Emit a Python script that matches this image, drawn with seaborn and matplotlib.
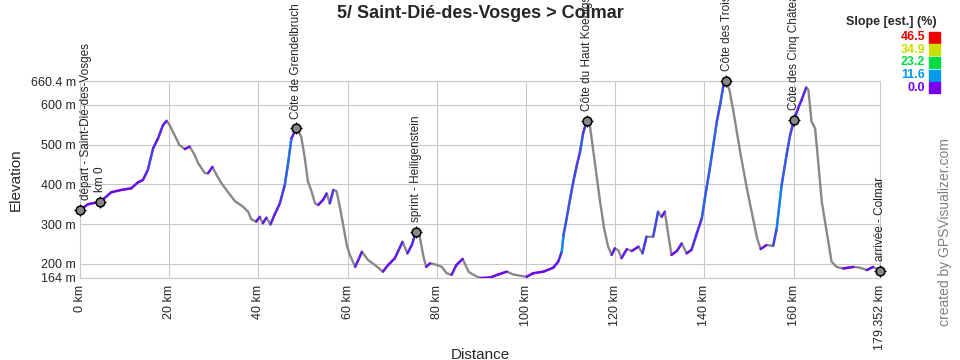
import numpy as np
import seaborn as sns
import matplotlib
matplotlib.use('Agg')
import matplotlib.pyplot as plt
import pandas as pd
from matplotlib.collections import LineCollection
from matplotlib.colors import LinearSegmentedColormap, Normalize
from matplotlib.patches import Rectangle

# profile (km, m)
dist_km = [0.0, 1.8, 4.55, 7.0, 9.3, 11.5, 13.0, 14.1, 15.2, 16.4, 17.5, 18.6, 19.4, 20.1,
           21.2, 22.3, 23.5, 24.6, 25.7, 26.5, 28.0, 28.7, 29.7, 30.6, 31.7, 32.8, 34.7,
           36.5, 37.7, 38.4, 39.5, 40.3, 41.0, 41.8, 42.7, 43.6, 44.8, 45.9, 46.6, 47.4,
           48.5, 49.6, 50.4, 51.1, 51.8, 52.7, 53.4, 54.5, 55.3, 56.0, 56.8, 57.5, 58.1,
           59.0, 59.8, 60.5, 61.7, 63.2, 64.6, 66.1, 67.9, 69.1, 70.6, 72.3, 73.4, 74.4,
           75.3, 76.1, 77.0, 77.6, 78.5, 80.0, 81.1, 82.2, 83.3, 84.4, 85.8, 87.1, 88.2,
           89.7, 91.9, 93.8, 95.7, 97.1, 98.6, 100.1, 101.6, 103.9, 106.1, 107.2, 108.0,
           108.4, 109.1, 109.9, 110.6, 111.4, 112.1, 112.8, 113.6, 114.2, 114.7, 115.8,
           116.6, 117.5, 118.4, 119.2, 119.9, 120.7, 121.4, 122.6, 123.7, 125.2, 126.1,
           127.0, 128.5, 129.6, 130.4, 131.1, 131.9, 132.6, 133.8, 134.9, 136.0, 137.1,
           138.3, 139.4, 140.3, 141.2, 142.0, 142.8, 143.5, 144.2, 144.8, 145.6, 146.5,
           148.0, 149.5, 150.9, 151.8, 152.6, 153.9, 155.4, 156.2, 157.3, 158.4, 159.2,
           160.1, 161.0, 161.8, 162.8, 163.3, 164.0, 164.8, 165.5, 166.3, 167.4, 168.5,
           169.6, 171.1, 173.4, 174.9, 176.4, 177.8, 179.352]
elev_m = [335, 350, 356, 380, 386, 390, 405, 411, 436, 491, 516, 549, 560, 549,
          524, 499, 489, 495, 474, 453, 428, 428, 444, 424, 403, 386, 358,
          344, 331, 312, 306, 318, 302, 316, 299, 323, 352, 398, 449, 516,
          541, 520, 466, 407, 386, 352, 348, 361, 377, 352, 386, 383, 352,
          298, 247, 222, 192, 230, 209, 197, 180, 197, 214, 255, 226, 247,
          281, 272, 218, 192, 201, 197, 192, 176, 172, 197, 212, 180, 172,
          164, 165, 173, 180, 173, 170, 167, 176, 180, 190, 205, 230,
          272, 314, 365, 407, 449, 482, 529, 560, 558, 516, 424,
          356, 289, 243, 222, 239, 234, 214, 237, 232, 243, 226,
          268, 268, 331, 318, 331, 272, 222, 232, 251, 226, 235,
          277, 314, 380, 440, 500, 560, 600, 646, 660.4, 638, 583,
          482, 390, 314, 264, 237, 247, 245, 289, 398, 474, 524,
          562, 592, 613, 644, 638, 558, 541, 457, 356, 281, 205,
          192, 188, 192, 190, 184, 192, 182]

marker_km = [0.0, 4.55, 48.5, 75.3, 113.6, 144.8, 160.1, 179.352]
marker_elev = [335, 356, 541, 281, 560, 660.4, 562, 182]
marker_labels = ['départ - Saint-Dié-des-Vosges', 'km 0', 'Côte de Grendelbruch',
                 'sprint - Heiligenstein', 'Côte du Haut Koenigsbourg',
                 'Côte des Trois Épis', 'Côte des Cinq Châteaux', 'arrivée - Colmar']

y_ticks = [164, 200, 300, 400, 500, 600, 660.4]
y_tick_labels = ['164 m', '200 m', '300 m', '400 m', '500 m', '600 m', '660.4 m']
x_ticks = [0, 20, 40, 60, 80, 100, 120, 140, 160, 179.352]
x_tick_labels = ['0 km', '20 km', '40 km', '60 km', '80 km', '100 km', '120 km',
                 '140 km', '160 km', '179.352 km']

slope_levels = [46.5, 34.9, 23.2, 11.6, 0.0]
slope_colors = ['#ee0000', '#ccdd00', '#00dd44', '#0099ee', '#7700ee']

sns.set_theme(style='white')
plt.rcParams['font.family'] = ['Liberation Sans', 'DejaVu Sans']

df = pd.DataFrame({'dist': dist_km, 'elev': elev_m})

fig = plt.figure(figsize=(9.6, 3.6), dpi=100)
ax = fig.add_axes([80 / 960, 1 - 278 / 360, 800 / 960, 197 / 360])

# gray base line (downhill parts stay gray)
sns.lineplot(data=df, x='dist', y='elev', ax=ax, color='#888888', lw=1.7, zorder=3)

# uphill segments coloured by slope
cmap = LinearSegmentedColormap.from_list(
    'slope', [(lv / 46.5, c) for lv, c in zip(slope_levels[::-1], slope_colors[::-1])])
norm = Normalize(0, 46.5)
d = np.array(dist_km)
e = np.array(elev_m, dtype=float)
slope = np.diff(e) / (np.diff(d) * 1000) * 100
pts = np.column_stack([d, e]).reshape(-1, 1, 2)
segs = np.concatenate([pts[:-1], pts[1:]], axis=1)
up = slope > 0
lc = LineCollection(segs[up], colors=cmap(norm(slope[up])), linewidths=1.7, zorder=4,
                    capstyle='round')
ax.add_collection(lc)

sns.scatterplot(x=marker_km, y=marker_elev, ax=ax, s=40, color='#888888',
                edgecolor='black', linewidth=1.1, zorder=6, clip_on=False)
sns.scatterplot(x=marker_km, y=marker_elev, ax=ax, s=70, marker='+', color='black',
                linewidth=0.8, zorder=5, clip_on=False)
for km, el, lab in zip(marker_km, marker_elev, marker_labels):
    dx = 4 if km == 0 else 0
    ax.annotate(lab, (km, el), xytext=(dx, 7), textcoords='offset points',
                rotation=90, ha='center', va='bottom', fontsize=8.5,
                annotation_clip=False)

ax.set_xlim(0, 179.352)
ax.set_ylim(164, 660.4)
ax.set_xticks(x_ticks)
ax.set_xticklabels(x_tick_labels, rotation=90, fontsize=9)
ax.set_yticks(y_ticks)
ax.set_yticklabels(y_tick_labels, fontsize=9)
ax.tick_params(length=0, pad=3)
ax.tick_params(axis='x', pad=5)
ax.grid(True, color='#c8c8c8', lw=0.75)
for sp in ax.spines.values():
    sp.set_color('#c8c8c8')
    sp.set_linewidth(0.75)

ax.set_xlabel('Distance', fontsize=11)
ax.set_ylabel('Elevation', fontsize=11)
ax.xaxis.set_label_coords(0.5, -0.355)
ax.yaxis.set_label_coords(-0.072, 0.5)

fig.text(0.5, 1 - 14 / 360, '5/ Saint-Dié-des-Vosges > Colmar', ha='center',
         va='center', fontsize=13, fontweight='bold')

# slope legend
fig.text(937 / 960, 1 - 22 / 360, 'Slope [est.] (%)', ha='right', va='center',
         fontsize=9, fontweight='bold')
for i, (lv, c) in enumerate(zip(slope_levels, slope_colors)):
    yc = 37 + i * 12.7
    fig.text(925 / 960, 1 - yc / 360, f'{lv:.1f}', ha='right', va='center',
             fontsize=9, fontweight='bold', color=c)
    fig.patches.append(Rectangle((929 / 960, 1 - (yc + 5.5) / 360), 11 / 960, 11 / 360,
                                 transform=fig.transFigure, color=c, figure=fig))

fig.text(945 / 960, 1 - 232 / 360, 'created by GPSVisualizer.com', rotation=90,
         ha='center', va='center', fontsize=10, color='#808080')

fig.savefig('out.png', dpi=100)
